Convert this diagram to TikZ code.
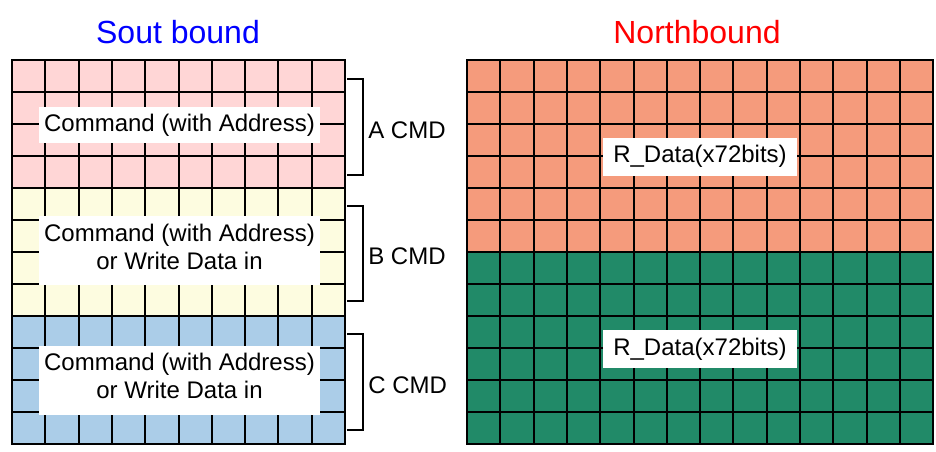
\documentclass[tikz,border=0pt]{standalone}
\usepackage{fontspec}
\setmainfont{Liberation Sans}
\usetikzlibrary{positioning}
\definecolor{cmdApink}{RGB}{255,214,214}
\definecolor{cmdByellow}{RGB}{253,252,224}
\definecolor{cmdCblue}{RGB}{171,205,232}
\definecolor{rdOrange}{RGB}{245,155,124}
\definecolor{rdGreen}{RGB}{33,138,104}
\tikzset{
  gridline/.style={draw=black, line width=2pt, line cap=rect},
  labelbox/.style={fill=white, inner sep=0pt, align=center, minimum width=281pt},
  databox/.style={fill=white, inner sep=0pt, minimum width=194pt, minimum height=38pt},
  title/.style={font=\fontsize{32}{38}\selectfont},
  bracket/.style={draw=black, line width=2pt},
  cmdlabel/.style={right=1pt, yshift=-3pt}
}

\begin{document}
\begin{tikzpicture}[x=1pt, y=-1pt, every node/.style={font=\fontsize{24}{28}\selectfont}]
  \useasboundingbox (0,0) rectangle (936,451);
  % Titles
  \node[title, text=blue] (south) at (178,32) {Sout bound};
  \node[title, text=red] (north) at (697,32) {Northbound};

  % Southbound cells
  \fill[cmdApink] (12,60) rectangle (345,188);
  \fill[cmdByellow] (12,188) rectangle (345,316);
  \fill[cmdCblue] (12,316) rectangle (345,444);
  \foreach \i in {0,...,10}
    \draw[gridline] ({12+\i*33.3},60) -- ({12+\i*33.3},444);
  \foreach \j in {0,...,12}
    \draw[gridline] (12,{60+\j*32}) -- (345,{60+\j*32});

  % Northbound cells
  \fill[rdOrange] (467,60) rectangle (933,252);
  \fill[rdGreen] (467,252) rectangle (933,444);
  \foreach \i in {0,...,14}
    \draw[gridline] ({467+\i*33.3},60) -- ({467+\i*33.3},444);
  \foreach \j in {0,...,12}
    \draw[gridline] (467,{60+\j*32}) -- (933,{60+\j*32});

  % Labels
  \node[labelbox, minimum height=36pt] (cmdA) at (179.5,125) {Command (with Address)};
  \node[labelbox, minimum height=69pt, text depth=7.5pt] (cmdB) at (179.5,250.5) {Command (with Address)\\or Write Data in};
  \node[labelbox, minimum height=69pt, text depth=7.5pt] (cmdC) at (179.5,380) {Command (with Address)\\or Write Data in};
  \node[databox] (rdataN) at (700,156.5) {R\_Data(x72bits)};
  \node[databox] (rdataS) at (700,349) {R\_Data(x72bits)};

  % Brackets
  \draw[bracket] (347,79) -- (363,79) -- node[cmdlabel] (acmd) {A CMD} (363,175) -- (347,175);
  \draw[bracket] (347,206) -- (363,206) -- node[cmdlabel] (bcmd) {B CMD} (363,301) -- (347,301);
  \draw[bracket] (347,334) -- (363,334) -- node[cmdlabel] (ccmd) {C CMD} (363,430) -- (347,430);
\end{tikzpicture}
\end{document}
